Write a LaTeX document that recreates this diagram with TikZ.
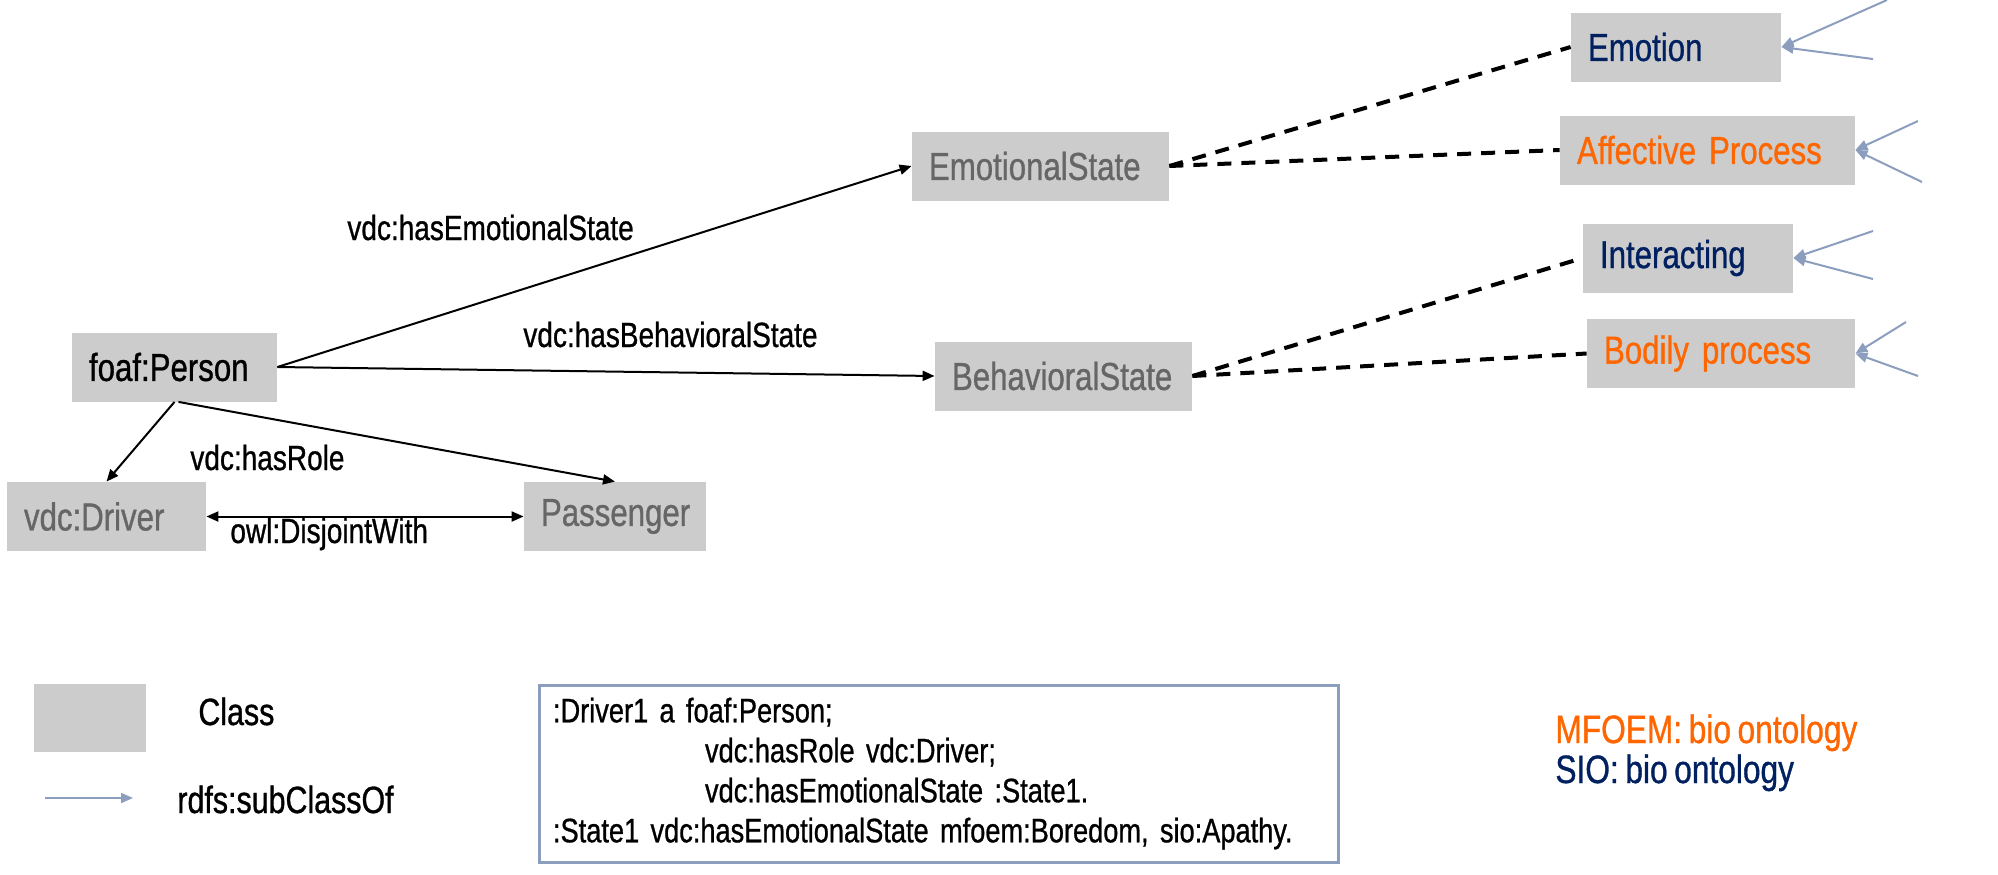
\documentclass[tikz,border=0pt]{standalone}
\usepackage{fontspec}
\setmainfont{Liberation Sans}[FakeStretch=0.8, FakeBold=0.8, WordSpace=0.75]
\usetikzlibrary{arrows.meta}
\definecolor{clsgray}{RGB}{204,204,204}
\definecolor{txtgray}{RGB}{102,102,102}
\definecolor{sionavy}{RGB}{0,32,96}
\definecolor{mfoemorange}{RGB}{255,102,0}
\definecolor{subblue}{RGB}{140,158,190}

\begin{document}
\begin{tikzpicture}[x=0.5pt,y=-0.5pt,
  cls/.style={rectangle, fill=clsgray, text=txtgray, inner xsep=8.5pt, inner ysep=0pt,
    minimum height=34.5pt, text width=#1, align=left, font=\fontsize{19.5}{23}\selectfont},
  lbl/.style={inner sep=0pt, anchor=base west, font=\fontsize{17.5}{21}\selectfont},
  rel/.style={line width=1pt, -{Triangle[length=6pt,width=5pt]}},
  relboth/.style={line width=1pt, {Triangle[length=6pt,width=5pt]}-{Triangle[length=6pt,width=5pt]}},
  dashlink/.style={line width=2pt, dash pattern=on 7pt off 5pt},
  subcls/.style={line width=1pt, subblue, -{Triangle[length=6pt,width=5pt]}}]
\useasboundingbox (0,0) rectangle (1998,874);

\node[cls=85.5pt, text=black] (person) at (174.5,367) {foaf:Person};
\node[cls=82.5pt] (driver) at (106.5,516.5) {vdc:Driver};
\node[cls=74pt] (passenger) at (615,516.5) {Passenger};
\node[cls=111.5pt] (emostate) at (1040.5,166) {EmotionalState};
\node[cls=111.5pt] (behstate) at (1063.5,376) {BehavioralState};
\node[cls=88pt, text=sionavy] (emotion) at (1676,47) {Emotion};
\node[cls=130.5pt, text=mfoemorange] (affective) at (1707.5,150) {Affective Process};
\node[cls=88pt, text=sionavy] (interacting) at (1688,258) {Interacting};
\node[cls=117pt, text=mfoemorange] (bodily) at (1721,353.5) {Bodily process};

\draw[rel] (person.east) -- (emostate.west);
\draw[rel] (person.east) -- (behstate.west);
\draw[rel] (person.south) -- (driver.north);
\draw[rel] ([xshift=2pt]person.south) -- (passenger.north);
\draw[relboth] (driver.east) -- (passenger.west);

\node[lbl] (hasemo) at (347,240) {vdc:hasEmotionalState};
\node[lbl] (hasbeh) at (523,347) {vdc:hasBehavioralState};
\node[lbl] (hasrole) at (190,470) {vdc:hasRole};
\node[lbl] (disjoint) at (230,543) {owl:DisjointWith};

\draw[dashlink] (emostate.east) -- (emotion.west);
\draw[dashlink] (emostate.east) -- (affective.west);
\draw[dashlink] (behstate.east) -- (interacting.west);
\draw[dashlink] (behstate.east) -- (bodily.west);

\coordinate (emotionA) at (1887,0);
\coordinate (emotionB) at (1873,59);
\coordinate (affectiveA) at (1918,121);
\coordinate (affectiveB) at (1922,182);
\coordinate (interactingA) at (1873,231);
\coordinate (interactingB) at (1873,279);
\coordinate (bodilyA) at (1906,322);
\coordinate (bodilyB) at (1918,376);
\draw[subcls] (emotionA) -- (emotion.east);
\draw[subcls] (emotionB) -- (emotion.east);
\draw[subcls] (affectiveA) -- (affective.east);
\draw[subcls] (affectiveB) -- (affective.east);
\draw[subcls] (interactingA) -- (interacting.east);
\draw[subcls] (interactingB) -- (interacting.east);
\draw[subcls] (bodilyA) -- (bodily.east);
\draw[subcls] (bodilyB) -- (bodily.east);

\node[fill=clsgray, minimum width=56pt, minimum height=34pt, inner sep=0pt] (legclass) at (90,718) {};
\node[lbl, font=\fontsize{19}{23}\selectfont] (legclasstxt) at (198,725) {Class};
\coordinate (legfrom) at (45,798);
\coordinate (legto) at (133,798);
\draw[subcls] (legfrom) -- (legto);
\node[lbl, font=\fontsize{19}{23}\selectfont] (legsubtxt) at (177,813) {rdfs:subClassOf};

\node[draw=subblue, line width=1.5pt, minimum width=399.5pt, minimum height=88.5pt,
  text width=385.5pt, inner xsep=7pt, align=left, font=\fontsize{17}{20}\selectfont] (turtle) at (938.5,773.5)
  {:Driver1 a foaf:Person;\\
   \hspace*{76pt}vdc:hasRole vdc:Driver;\\
   \hspace*{76pt}vdc:hasEmotionalState :State1.\\
   :State1 vdc:hasEmotionalState mfoem:Boredom, sio:Apathy.};

\node[lbl, text=mfoemorange, font=\fontsize{19.8}{23}\selectfont] (mfoemnote) at (1555,743) {MFOEM: bio ontology};
\node[lbl, text=sionavy, font=\fontsize{19.8}{23}\selectfont] (sionote) at (1555,783) {SIO: bio ontology};
\end{tikzpicture}
\end{document}
